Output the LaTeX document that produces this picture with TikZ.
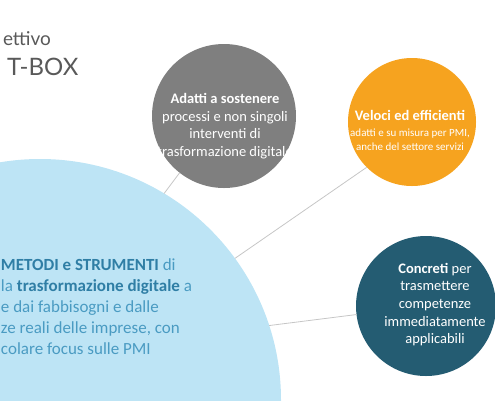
\documentclass[tikz,border=0pt]{standalone}
\usepackage{fontspec}
\setmainfont{Carlito}
\newfontfamily\headfont{Lato}
\usetikzlibrary{positioning}
\definecolor{skyfill}{HTML}{BDE4F5}
\definecolor{slatefill}{HTML}{7F7F7F}
\definecolor{amberfill}{HTML}{F6A31F}
\definecolor{tealfill}{HTML}{245C72}
\definecolor{skytext}{HTML}{4A9BC2}
\definecolor{skybold}{HTML}{2F7EA5}
\definecolor{headgrey}{HTML}{595959}

\begin{document}
\begin{tikzpicture}[
  x=1pt, y=-1pt,
  every node/.style={inner sep=0pt, outer sep=0pt},
  disc/.style={circle, draw=none},
  bigdisc/.style={disc, fill=skyfill, minimum size=482pt},
  greydisc/.style={disc, fill=slatefill, minimum size=144pt},
  amberdisc/.style={disc, fill=amberfill, minimum size=128pt},
  tealdisc/.style={disc, fill=tealfill, minimum size=140pt},
  disctext/.style={align=center, text=white, font=\fontsize{14.5}{17.6}\selectfont},
  smalltext/.style={align=center, text=white, font=\fontsize{11}{14}\selectfont},
  bodytext/.style={align=left, text=skytext, font=\fontsize{17}{21}\selectfont},
  headtext/.style={text=headgrey, anchor=base west},
  link/.style={draw=gray!45, line width=0.8pt}
]
\useasboundingbox (0,0) rectangle (495,400);
\clip (0,0) rectangle (495,400);

% ---- Title (cut at the left edge) ----
\node (aim) [headtext, font=\headfont\fontsize{19}{22}\selectfont] at (3,45) {ettivo};
\node (kit) [headtext, font=\headfont\fontsize{24}{28}\selectfont] at (7,75) {T-BOX};

% ---- Discs ----
\node (base)  [bigdisc]   at (40,400) {};
\node (adapt) [greydisc]  at (224,116) {};
\node (fast)  [amberdisc] at (412,122) {};
\node (real)  [tealdisc]  at (426,306) {};

% ---- Disc texts ----
\node (basetxt) [bodytext, anchor=west] at (1,307)
  {{\bfseries\color{skybold}METODI e STRUMENTI} di\\
   la {\bfseries\color{skybold}trasformazione digitale} a\\
   e dai fabbisogni e dalle\\
   ze reali delle imprese, con\\
   colare focus sulle PMI};
\node (adapttxt) [disctext] at (225,126)
  {\textbf{Adatti a sostenere}\\ processi e non singoli\\ interventi di\\ trasformazione digitale};
\node (fasttxt) [smalltext] at (410,130.5)
  {{\bfseries\fontsize{14.5}{17}\selectfont Veloci ed efficienti}\\[2pt]
   adatti e su misura per PMI,\\ anche del settore servizi};
\node (realtxt) [disctext] at (435,304.5)
  {\textbf{Concreti} per\\ trasmettere\\ competenze\\ immediatamente\\ applicabili};

% ---- Links ----
\draw [link] (base.59) -- (adapt.232);
\draw [link] (base.36) -- (fast.225);
\draw [link] (base.18) -- (real.187);
\end{tikzpicture}
\end{document}
